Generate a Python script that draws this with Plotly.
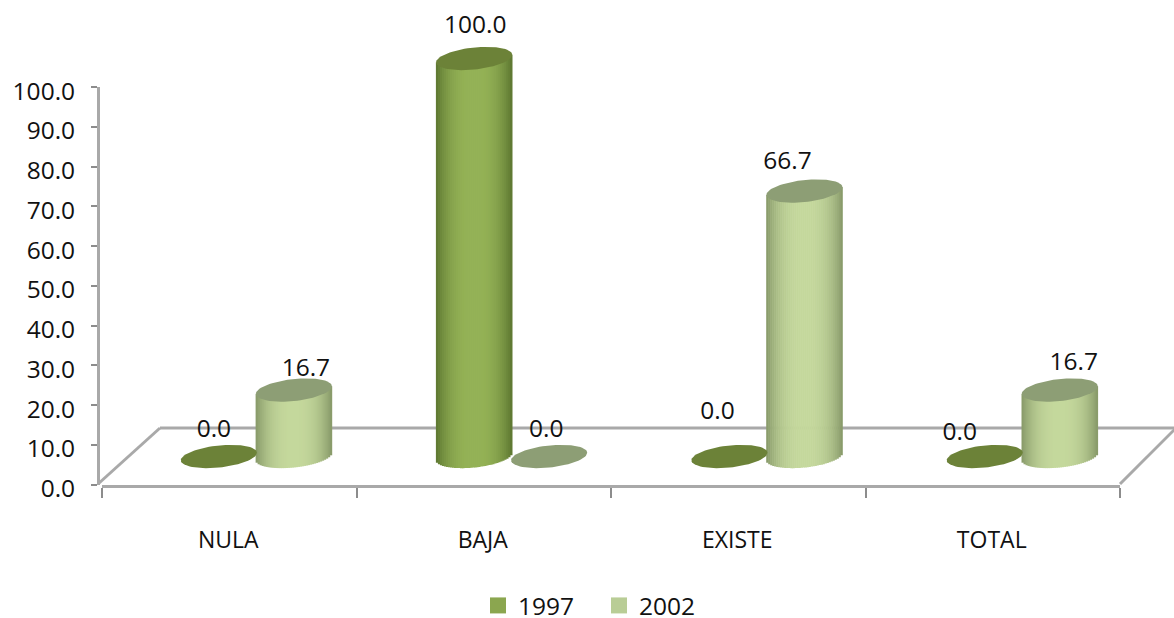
import math
import plotly.graph_objects as go

categories = ["NULA", "BAJA", "EXISTE", "TOTAL"]
series_names = ["1997", "2002"]
values_1997 = [0.0, 100.0, 0.0, 0.0]
values_2002 = [16.7, 0.0, 66.7, 16.7]
y_ticks = [0, 10, 20, 30, 40, 50, 60, 70, 80, 90, 100]

W, H = 1174, 618
GRAY = "#a9a9a9"
NUM_FONT = dict(family="Open Sans", size=24.5, color="#111111")
CAT_FONT = dict(family="Open Sans", size=23, color="#111111")

# pixel geometry of the pseudo-3D scene
PX_PER_CAT = 255.3
X0_PX = 256.4
PX_PER_UNIT = 3.98
Y0_PX = 456.5
A, B, SKEW = 38.0, 11.0, 0.10
STRIPS = 38
SER_OFFSET = [-37.5, 37.5]

SERIES = [
    dict(name=series_names[0], values=values_1997, center=(148, 178, 86), edge=(92, 118, 48),
         top="#6c8238", legend="#8ba64f"),
    dict(name=series_names[1], values=values_2002, center=(196, 216, 156), edge=(134, 152, 104),
         top="#8d9e75", legend="#b9cd96"),
]
# label offsets in pixels from the natural position (dx, dy up)
LABEL_OFFSETS = [
    [(-5, 26), (1, 32), (-12, 44), (-25, 23)],
    [(12, 20), (-3, 26), (-17, 28), (14, 26)],
]


def px2x(dpx):
    return dpx / PX_PER_CAT


def px2y(dpx):
    return dpx / PX_PER_UNIT


def shade(c1, c2, t):
    return "rgb(%d,%d,%d)" % tuple(round(a + (b - a) * t) for a, b in zip(c1, c2))


fig = go.Figure()

# invisible trace that carries the category axis
fig.add_trace(go.Scatter(x=categories, y=[0] * 4, mode="markers", marker=dict(opacity=0),
                         showlegend=False, hoverinfo="skip", xaxis="x", yaxis="y"))

# cylinder bodies: each one is a stack of narrow bars shaded like a cylinder
for s, ser in enumerate(SERIES):
    idx = [i for i, v in enumerate(ser["values"]) if v > 0]
    for k in range(STRIPS):
        u = (k + 0.5) / STRIPS * 2 - 1
        t = 1 - abs(u) ** 2.6
        low = SKEW * A * u - B * math.sqrt(1 - u * u)
        base = px2y(low)
        fig.add_trace(go.Bar(
            x=idx, y=[ser["values"][i] + px2y(SKEW * A * u) - base for i in idx], base=base,
            width=px2x(2 * A / STRIPS + 0.6),
            offset=px2x(SER_OFFSET[s] + u * A - A / STRIPS - 0.3),
            marker=dict(color=shade(ser["edge"], ser["center"], t), line=dict(width=0)),
            showlegend=False, hoverinfo="skip", xaxis="x2", yaxis="y2"))

# value labels (below the cylinder tops)
for s, ser in enumerate(SERIES):
    fig.add_trace(go.Scatter(
        x=[i + px2x(SER_OFFSET[s] + LABEL_OFFSETS[s][i][0]) for i in range(4)],
        y=[v + px2y(LABEL_OFFSETS[s][i][1]) for i, v in enumerate(ser["values"])],
        mode="text", text=["%.1f" % v for v in ser["values"]], textposition="middle center",
        textfont=NUM_FONT, showlegend=False, hoverinfo="skip", xaxis="x2", yaxis="y2"))

# cylinder caps
for s, ser in enumerate(SERIES):
    for i, v in enumerate(ser["values"]):
        xs, ys = [], []
        for n in range(73):
            a = n / 72 * 2 * math.pi
            xs.append(i + px2x(SER_OFFSET[s] + A * math.cos(a)))
            ys.append(v + px2y(SKEW * A * math.cos(a) + B * math.sin(a)))
        fig.add_trace(go.Scatter(x=xs, y=ys, mode="lines", fill="toself", fillcolor=ser["top"],
                                 line=dict(width=0), showlegend=False, hoverinfo="skip",
                                 xaxis="x2", yaxis="y2"))

# legend entries
for ser in SERIES:
    fig.add_trace(go.Scatter(x=[None], y=[None], mode="markers", name=ser["name"],
                             marker=dict(symbol="square", size=16, color=ser["legend"]),
                             xaxis="x2", yaxis="y2"))

floor = [
    ((98, 484), (160, 428)),
    ((160, 428), (1174, 428)),
    ((1120, 484), (1176, 428)),
]
shapes = [dict(type="line", xref="paper", yref="paper", layer="below",
               x0=a[0] / W, y0=1 - a[1] / H, x1=b[0] / W, y1=1 - b[1] / H,
               line=dict(color=GRAY, width=3)) for a, b in floor]

fig.update_layout(
    width=W, height=H, margin=dict(l=0, r=0, t=0, b=0, pad=0, autoexpand=False),
    paper_bgcolor="white", plot_bgcolor="rgba(0,0,0,0)", barmode="overlay", shapes=shapes,
    xaxis=dict(type="category", categoryorder="array", categoryarray=categories,
               domain=[102 / W, 1120 / W], range=[-0.5, 3.5], anchor="y",
               showgrid=False, zeroline=False, showline=True, linecolor=GRAY, linewidth=3,
               ticks="outside", ticklen=10, tickwidth=2, tickcolor="#8c8c8c", tickson="boundaries",
               ticklabelstandoff=33, ticklabelshift=-1, tickfont=CAT_FONT),
    yaxis=dict(domain=[1 - 484.5 / H, 1 - 87 / H], range=[0, 100], anchor="free",
               position=98 / W, tickvals=y_ticks, tickformat=".1f",
               showgrid=False, zeroline=False, showline=True, linecolor=GRAY, linewidth=3,
               ticks="outside", ticklen=6, tickwidth=2, tickcolor="#8c8c8c",
               ticklabelstandoff=11, ticklabelshift=4, tickfont=NUM_FONT),
    xaxis2=dict(domain=[0, 1], range=[-X0_PX / PX_PER_CAT, (W - X0_PX) / PX_PER_CAT],
                anchor="y2", visible=False),
    yaxis2=dict(domain=[0, 1], range=[(Y0_PX - H) / PX_PER_UNIT, Y0_PX / PX_PER_UNIT],
                anchor="x2", visible=False),
    legend=dict(orientation="h", x=478 / W, y=1 - 583 / H, xanchor="left", yanchor="top",
                font=NUM_FONT, bgcolor="rgba(0,0,0,0)", itemclick=False, itemdoubleclick=False,
                entrywidth=76, entrywidthmode="pixels"),
)

fig.write_html("out.html", config=dict(displayModeBar=False),
               post_script="document.body.style.margin='0';")
